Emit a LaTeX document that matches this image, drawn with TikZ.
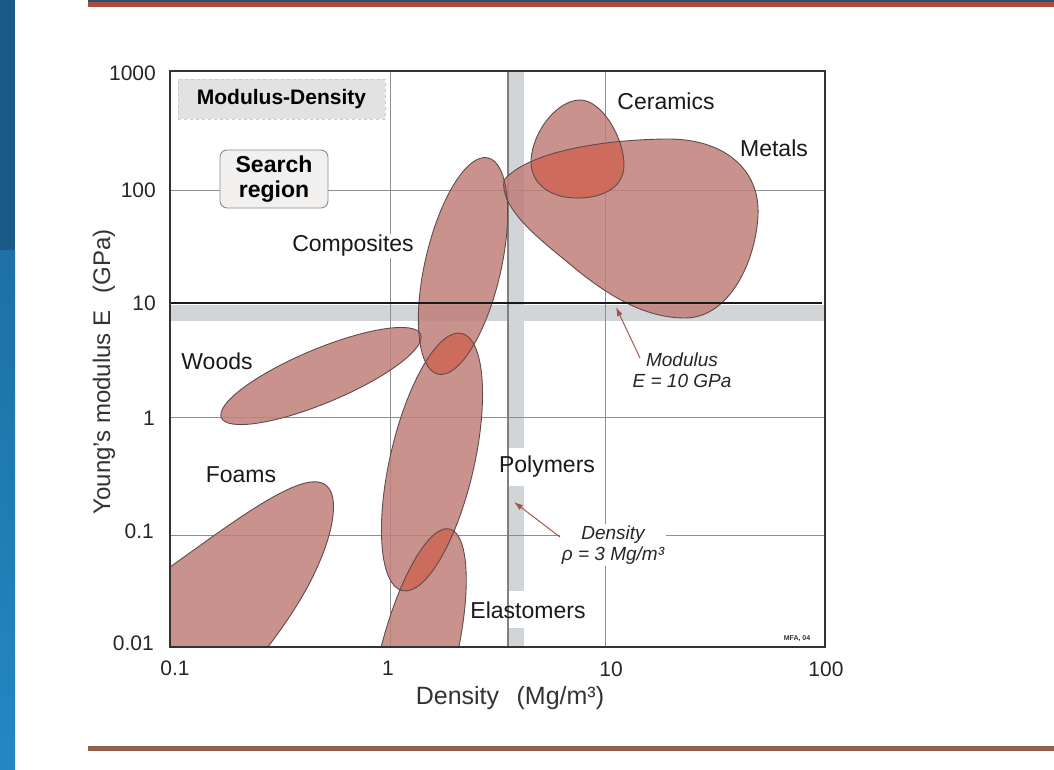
\documentclass[tikz,border=0pt]{standalone}
\usepackage{fontspec}
\setmainfont{Liberation Sans}
\usetikzlibrary{arrows.meta}
\definecolor{bluedark}{HTML}{1A5A87}
\definecolor{bluemid}{HTML}{1E70A5}
\definecolor{bluelight}{HTML}{2388C3}
\definecolor{topred}{HTML}{A94D3E}
\definecolor{topblue}{HTML}{2A5275}
\definecolor{botline}{HTML}{94604E}
\definecolor{bandgray}{HTML}{D2D5D8}
\definecolor{gridgray}{HTML}{8E8E8E}
\definecolor{bubfill}{HTML}{C17F7A}
\definecolor{ovlfill}{HTML}{D2624F}
\definecolor{bubedge}{HTML}{5F4C4A}
\definecolor{arrowred}{HTML}{A5564C}
\definecolor{boxgray}{HTML}{E2E2E2}
\definecolor{searchfill}{HTML}{F1F0EE}
\begin{document}
\begin{tikzpicture}[x=1pt,y=-1pt,
  lbl/.style={font=\fontsize{23}{27}\selectfont, text=black!90, inner sep=1pt},
  whitelbl/.style={lbl, fill=white},
  ticklbl/.style={font=\fontsize{21}{24}\selectfont, text=black!85, inner sep=0pt},
  axislbl/.style={font=\fontsize{25}{29}\selectfont, text=black!80, inner sep=0pt},
  notelbl/.style={font=\itshape\fontsize{19}{21}\selectfont, text=black!85, align=center, fill=white, inner sep=2pt},
  gridline/.style={draw=gridgray, line width=0.9},
  bubble/.style={fill=bubfill, fill opacity=0.85},
  overlap/.style={fill=ovlfill, fill opacity=0.7},
  bubborder/.style={draw=bubedge, line width=0.9},
  pointer/.style={draw=arrowred, line width=1, -{Latex[length=9pt,width=6pt]}},
  titlebox/.style={fill=boxgray, draw=black!20, dashed, line width=0.6, minimum width=207, minimum height=40, inner sep=0pt,
     font=\bfseries\fontsize{21}{24}\selectfont},
  searchbox/.style={fill=searchfill, draw=black!45, line width=0.9, rounded corners=7, minimum width=108, minimum height=58,
     inner sep=0pt, align=center, font=\bfseries\fontsize{23}{25}\selectfont}
]
\useasboundingbox (0,0) rectangle (1054,769);
\fill[white] (0,0) rectangle (1054,769);
% left blue strip
\fill[bluedark] (0,0) rectangle (15,250);
\shade[top color=bluemid, bottom color=bluelight] (0,250) rectangle (15,769);
% top and bottom rules
\fill[topblue] (88,0) rectangle (1054,2);
\fill[topred] (88,2) rectangle (1054,7);
\fill[botline] (88,746) rectangle (1054,751);

% bands
\fill[bandgray] (170,305) rectangle (825,321);
\fill[bandgray] (508,71) rectangle (524,448);
\fill[bandgray] (508,486) rectangle (524,591);
\fill[bandgray] (508,628) rectangle (524,647);
% grid
\draw[gridline] (390,71) -- (390,647);
\draw[gridline] (605,71) -- (605,647);
\draw[gridline] (170,190) -- (825,190);
\draw[gridline] (170,417) -- (825,417);
\draw[gridline] (170,535) -- (825,535);
\draw[draw=black!50, line width=1.4] (508,71) -- (508,647);

% material bubbles
\def\pCeramics{(580,100) .. controls (602,100) and (624,138) .. (624,165) .. controls (624,190) and (598,199) .. (574,198) .. controls (548,197) and (530,182) .. (531,160) .. controls (533,130) and (558,100) .. (580,100) -- cycle}
\def\pMetals{(504,180) .. controls (528,152) and (600,140) .. (665,139) .. controls (725,138) and (760,170) .. (758,215) .. controls (756,260) and (730,318) .. (685,318) .. controls (640,318) and (600,290) .. (565,260) .. controls (530,232) and (500,205) .. (504,180) -- cycle}
\def\pComposites{(463,266) ellipse [x radius=111pt, y radius=38pt, rotate=77]}
\def\pPolymers{(432,462) ellipse [x radius=132pt, y radius=42pt, rotate=77]}
\def\pElastomers{(417,660) ellipse [x radius=135pt, y radius=38pt, rotate=76]}
\def\pWoods{(321,376) ellipse [x radius=108pt, y radius=27pt, rotate=22.7]}
\def\pFoams{(160,575) -- (170,567) .. controls (225,528) and (290,478) .. (318,482) .. controls (340,485) and (335,520) .. (325,548) .. controls (310,590) and (285,625) .. (258,660) -- (160,660) -- cycle}

\begin{scope}
  \clip (170,71) rectangle (825,647);
  \fill[bubble] \pFoams;
  \fill[bubble] \pWoods;
  \fill[bubble] \pComposites;
  \fill[bubble] \pPolymers;
  \fill[bubble] \pElastomers;
  \fill[bubble] \pCeramics;
  \fill[bubble] \pMetals;
  \begin{scope}\clip \pCeramics; \fill[overlap] \pMetals; \end{scope}
  \begin{scope}\clip \pComposites; \fill[overlap] \pMetals; \end{scope}
  \begin{scope}\clip \pComposites; \fill[overlap] \pPolymers; \end{scope}
  \begin{scope}\clip \pPolymers; \fill[overlap] \pElastomers; \end{scope}
  \draw[bubborder] \pFoams;
  \draw[bubborder] \pWoods;
  \draw[bubborder] \pComposites;
  \draw[bubborder] \pPolymers;
  \draw[bubborder] \pElastomers;
  \draw[bubborder] \pCeramics;
  \draw[bubborder] \pMetals;
\end{scope}

% E = 10 GPa line
\draw[black!90, line width=2.6] (170,303) -- (822,303);
% frame
\draw[black!80, line width=1.3] (170,71) rectangle (825,647);

% boxes
\node[titlebox] (title) at (281.5,99) {Modulus-Density};
\node[searchbox] (search) at (274,179) {Search\\region};

% material labels
\node[whitelbl] (composites) at (353,246) {Composites};
\node[lbl] (ceramics) at (666,101) {Ceramics};
\node[lbl] (metals) at (774,148) {Metals};
\node[lbl] (woods) at (217,361) {Woods};
\node[lbl] (foams) at (241,475) {Foams};
\node[lbl] (polymers) at (547,467) {Polymers};
\node[lbl] (elastomers) at (528,610) {Elastomers};

% annotations
\node[notelbl] (modnote) at (682,370) {Modulus\\E = 10 GPa};
\node[notelbl] (densnote) at (613,545) {Density\\ρ = 3 Mg/m³};
\coordinate (modstart) at (640,358);
\coordinate (modtip) at (616,307);
\coordinate (densstart) at (560,537);
\coordinate (denstip) at (514,502);
\draw[pointer] (modstart) -- (modtip);
\draw[pointer] (densstart) -- (denstip);
\node[font=\bfseries\fontsize{7}{8}\selectfont, text=black!80, inner sep=0pt] (mfa) at (797,639) {MFA, 04};

% y ticks
\node[ticklbl, anchor=east] (y1000) at (156,73) {1000};
\node[ticklbl, anchor=east] (y100) at (156,190) {100};
\node[ticklbl, anchor=east] (y10) at (156,303) {10};
\node[ticklbl, anchor=east] (y1) at (155,418) {1};
\node[ticklbl, anchor=east] (y01) at (154,531) {0.1};
\node[ticklbl, anchor=east] (y001) at (154,643) {0.01};
% x ticks
\node[ticklbl] (x01) at (175,668) {0.1};
\node[ticklbl] (x1) at (388,668) {1};
\node[ticklbl] (x10) at (611,669) {10};
\node[ticklbl] (x100) at (826,669) {100};
% axis titles
\node[axislbl] (xtitle) at (510,698) {Density\hspace{0.7em}(Mg/m³)};
\node[axislbl, font=\fontsize{24}{28}\selectfont, rotate=90] (ytitle) at (104,372) {Young's modulus E\hspace{0.7em}(GPa)};
\end{tikzpicture}
\end{document}
